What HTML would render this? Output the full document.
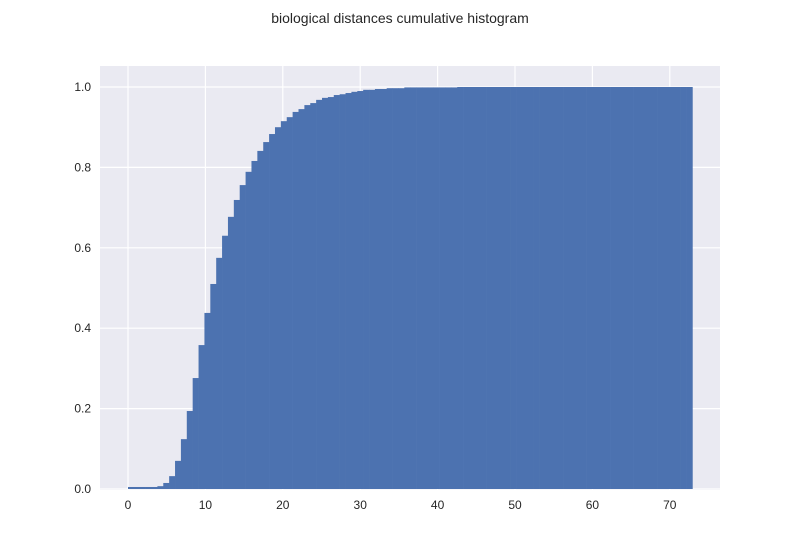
<!DOCTYPE html>
<html><head><meta charset="utf-8"><style>
body{margin:0;background:#fff;}
svg text{font-family:"Liberation Sans",sans-serif;fill:#262626;}
</style></head><body>
<svg id="chart" width="800" height="550" xmlns="http://www.w3.org/2000/svg">
<text x="400" y="23" text-anchor="middle" font-size="14">biological distances cumulative histogram</text>
<rect x="100" y="66" width="620" height="424" fill="#eaeaf2"/>
<g id="grid"></g><g id="bars"></g><g id="ticks"></g>
</svg>
<script>
const binStart = 0;
const binWidth = 0.7596;
const cumValues = [0.005,0.005,0.005,0.005,0.005,0.007,0.015,0.032,0.07,0.124,0.194,0.276,0.358,0.438,0.51,0.575,0.63,0.677,0.719,0.756,0.789,0.816,0.841,0.863,0.883,0.90,0.915,0.925,0.938,0.945,0.955,0.96,0.968,0.973,0.975,0.98,0.982,0.985,0.988,0.99,0.993,0.993,0.995,0.995,0.997,0.997,0.997,0.999,0.999,0.999,0.999,0.999,0.999,0.999,0.999,0.999,1,1,1,1,1,1,1,1,1,1,1,1,1,1,1,1,1,1,1,1,1,1,1,1,1,1,1,1,1,1,1,1,1,1,1,1,1,1,1,1];
const xTicks = [0,10,20,30,40,50,60,70];
const yTicks = [0,0.2,0.4,0.6,0.8,1.0];
const yTickLabels = ["0.0","0.2","0.4","0.6","0.8","1.0"];

const NS="http://www.w3.org/2000/svg";
const xs = v => 128 + v*7.74;
const ys = v => 489 - v*402;
function mk(tag, attrs, parent){const e=document.createElementNS(NS,tag);for(const k in attrs)e.setAttribute(k,attrs[k]);parent.appendChild(e);return e;}
const grid=document.getElementById('grid'), bars=document.getElementById('bars'), ticks=document.getElementById('ticks');
xTicks.forEach(t=>{
  const l=mk('line',{x1:xs(t),x2:xs(t),y1:66,y2:490,stroke:'#fff','stroke-width':1.2},grid);
  
  
  const tx=mk('text',{x:xs(t),y:509,'text-anchor':'middle','font-size':12},ticks);
  tx.textContent=t;
  
  
});
yTicks.forEach((t,i)=>{
  const l=mk('line',{x1:100,x2:720,y1:ys(t),y2:ys(t),stroke:'#fff','stroke-width':1.2},grid);
  
  
  const tx=mk('text',{x:91,y:ys(t)+4,'text-anchor':'end','font-size':12},ticks);
  tx.textContent=yTickLabels[i];
  
  
});
cumValues.forEach((v,i)=>{
  const x0=xs(binStart+i*binWidth), x1=xs(binStart+(i+1)*binWidth);
  const r=mk('rect',{x:x0,y:ys(v),width:x1-x0+0.3,height:ys(0)-ys(v),fill:'#4c72b0'},bars);
  
  
});
</script>
</body></html>
